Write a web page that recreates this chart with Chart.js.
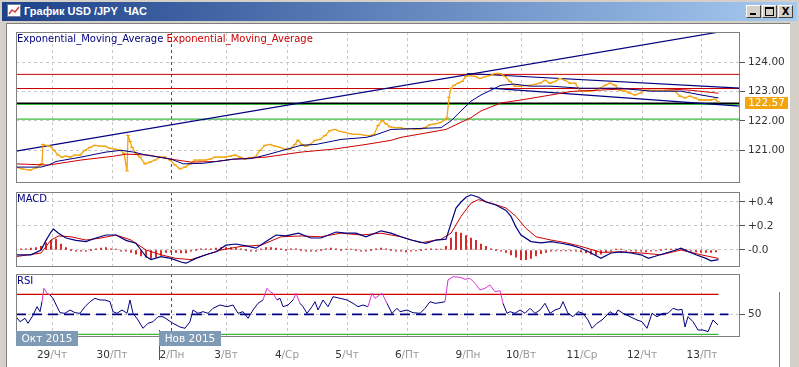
<!DOCTYPE html>
<html>
<head>
<meta charset="utf-8">
<title>USD/JPY</title>
<script src="https://cdn.jsdelivr.net/npm/chart.js@4.4.1/dist/chart.umd.min.js"></script>
<style>
  html, body { margin: 0; padding: 0; }
  body { width: 799px; height: 367px; overflow: hidden; position: relative; background: #d4d0c8; font-family: "DejaVu Sans", Verdana, sans-serif; }
  #titlebar { position: absolute; left: 2px; top: 2px; width: 795px; height: 19px; background: linear-gradient(to right, #1d4189, #a6caf0); }
  #titlebar .caption { position: absolute; left: 22px; top: 2px; color: #fff; font: bold 11px "Liberation Sans", Arial, sans-serif; line-height: 15px; white-space: pre; }
  #icon { position: absolute; left: 5px; top: 2px; }
  .btn { position: absolute; top: 3px; width: 13px; height: 11px; background: #d4d0c8; border: 1px solid; border-color: #fff #404040 #404040 #fff; }
  #client { position: absolute; left: 6px; top: 23px; width: 783px; height: 344px; background: #fff; border-left: 1px solid #808080; border-top: 1px solid #808080; }
  #edge { position: absolute; left: 779px; top: 292px; width: 1px; height: 75px; background: #808080; }
  canvas { position: absolute; left: 0; }
</style>
</head>
<body>
<div id="titlebar">
  <svg id="icon" width="15" height="14"><rect x="0.5" y="0.5" width="13" height="12" fill="#fff" stroke="#6d7f9c"/><polyline points="2,10 5,6 8,8 12,3" fill="none" stroke="#d23c3c" stroke-width="1.5"/></svg>
  <span class="caption">График USD /JPY  ЧАС</span>
  <div class="btn" style="left:744px"><div style="position:absolute;left:3px;top:7px;width:6px;height:2px;background:#000"></div></div>
  <div class="btn" style="left:760px"><div style="position:absolute;left:2px;top:1px;width:7px;height:6px;border:1px solid #000;border-top-width:2px"></div></div>
  <div class="btn" style="left:776px;font:bold 10px 'DejaVu Sans';line-height:11px;text-align:center">X</div>
</div>
<div id="client"></div>
<div id="edge"></div>
<canvas id="mainChart" width="799" height="164" style="top:24px"></canvas>
<canvas id="macdChart" width="799" height="82" style="top:188px"></canvas>
<canvas id="rsiChart" width="799" height="97" style="top:270px"></canvas>

<script>
// x axis is the bar index, one hourly bar per unit
const xMax = 289.6;
const dayStarts = [14.4, 38.4, 62.4, 84, 108.4, 132.4, 156.4, 180.8, 202, 226.4, 250.4, 274.4];
const dayNums = ['29', '30', '2', '3', '4', '5', '6', '9', '10', '11', '12', '13'];
const dayNames = ['Чт', 'Пт', 'Пн', 'Вт', 'Ср', 'Чт', 'Пт', 'Пн', 'Вт', 'Ср', 'Чт', 'Пт'];
const newMonthDay = 62.4;
const monthLabels = ['Окт 2015', 'Нов 2015'];
const monthMarks = [0, 57.2];

// price panel
const priceTicks = [121, 122, 123, 124];
const price = [
  [0,120.43],[2.4,120.37],[5.6,120.33],[8,120.4],[9.6,120.5],[10.4,120.55],[10.8,121.2],[12,121.17],[13.6,121.14],[15.2,121.0],
  [16.8,120.84],[18.4,120.77],[20,120.8],[21.6,120.77],[23.6,120.84],[25.6,120.84],[27.6,121.0],[29.6,121.1],[31.6,121.17],[33.6,121.14],
  [35.6,121.14],[37.6,121.07],[39.6,121.04],[41.6,121.0],[43.2,120.9],[44.4,120.3],[44.8,121.5],[45.6,121.3],[46.4,121.1],[48,120.9],
  [49.6,120.77],[51.6,120.54],[53.6,120.6],[55.6,120.67],[57.6,120.77],[59.6,120.77],[61.6,120.67],[63.6,120.5],[65.6,120.37],[67.6,120.43],
  [69.6,120.54],[71.6,120.67],[73.6,120.67],[75.6,120.67],[77.6,120.7],[79.6,120.77],[81.6,120.77],[83.6,120.77],[85.6,120.8],[87.6,120.84],
  [89.6,120.77],[91.6,120.7],[93.6,120.74],[95.6,120.77],[97.6,121.0],[99.6,121.17],[101.6,121.2],[103.6,121.14],[105.6,121.1],[107.6,121.04],
  [109.6,121.04],[111.6,121.2],[112.8,121.34],[114.4,121.2],[116,121.14],[117.6,121.2],[119.6,121.34],[121.6,121.37],[123.6,121.5],[125.6,121.67],
  [127.6,121.71],[129.6,121.64],[131.6,121.61],[133.6,121.57],[135.6,121.54],[137.6,121.54],[139.6,121.51],[141.6,121.5],[143.2,121.54],[144.8,121.84],
  [146.4,122.01],[148,121.9],[149.6,121.8],[151.6,121.77],[153.6,121.77],[155.6,121.74],[157.6,121.74],[159.6,121.72],[161.6,121.72],[163.6,121.77],
  [165.6,121.87],[167.6,121.9],[169.6,121.94],[171.6,122.04],[172.4,122.1],[173.2,122.8],[174,123.11],[175.2,123.21],[176.8,123.28],[178.4,123.34],
  [180,123.51],[181.6,123.54],[183.6,123.51],[185.6,123.44],[187.6,123.5],[189.6,123.54],[191.6,123.61],[193.6,123.61],[195.6,123.51],[197.6,123.34],
  [199.6,123.18],[201.6,123.18],[203.6,123.2],[205.6,123.21],[207.6,123.24],[209.6,123.28],[211.6,123.38],[213.6,123.28],[215.6,123.34],[217.6,123.44],
  [219.6,123.38],[221.6,123.28],[223.6,123.28],[225.6,123.04],[227.6,123.01],[229.6,123.01],[231.6,123.04],[233.6,123.11],[235.6,123.21],[237.6,123.28],
  [239.6,123.21],[241.6,123.04],[243.6,123.01],[245.6,122.94],[247.6,122.88],[249.6,122.94],[251.6,123.04],[253.6,123.04],[255.6,123.04],[257.6,123.04],
  [259.6,123.04],[261.6,123.04],[263.6,123.01],[265.6,122.84],[267.6,122.78],[269.6,122.84],[271.6,122.78],[273.6,122.71],[275.6,122.71],[277.6,122.71],
  [279.6,122.74],[280.8,122.65]
];
const emaFast = [
  [0,120.43],[10,120.43],[13,120.5],[16,120.62],[26,120.77],[36,120.94],[42,121.0],[47,120.94],[52,120.84],[62,120.7],
  [67,120.54],[75,120.56],[87,120.7],[94,120.72],[100,120.84],[114,121.17],[120,121.2],[130,121.37],[140,121.44],[143,121.5],
  [150,121.71],[154,121.72],[170,121.77],[174,122.0],[178,122.34],[182,122.67],[186,122.88],[194,123.21],[199,123.25],[206,123.18],
  [214,123.18],[226,123.11],[242,123.11],[254,123.01],[266,123.01],[274,122.88],[281,122.78]
];
const emaSlow = [
  [0,120.54],[13,120.5],[26,120.67],[39,120.8],[44,120.87],[53,120.84],[62,120.7],[70,120.6],[80,120.62],[87,120.7],
  [100,120.77],[114,120.94],[127,121.04],[140,121.2],[150,121.34],[154,121.44],[172,121.71],[182,122.11],[186,122.34],[194,122.61],
  [202,122.71],[214,122.88],[222,123.0],[242,123.08],[258,123.1],[270,123.04],[281,122.94]
];
const trendLong = [[0,120.97],[289.6,125.14]];
const channelUpper = [[180.4,123.61],[289.6,123.11]];
const channelLower = [[189.6,123.11],[289.6,122.5]];
const redLevels = [123.58, 123.10];
const greenLevels = [122.56, 122.06];
const bidLine = 122.60;
const lastQuote = '122.57';

// MACD panel
const macdTicks = [0, 0.2, 0.4];
const macd = [
  [0,-0.04],[6,-0.04],[10,0],[12,0.08],[14,0.15],[15,0.175],[17,0.14],[20,0.1],[24,0.08],[28,0.07],
  [32,0.1],[36,0.125],[40,0.125],[44,0.08],[48,0.056],[50,0],[52,-0.055],[54,-0.08],[58,-0.055],[62,-0.07],
  [66,-0.1],[68,-0.11],[72,-0.07],[76,-0.04],[80,-0.015],[84,0.04],[88,0.05],[92,0.035],[96,0.015],[100,0.07],
  [104,0.125],[108,0.117],[113,0.14],[118,0.1],[122,0.1],[128,0.15],[132,0.14],[136,0.14],[140,0.11],[146,0.16],
  [150,0.14],[154,0.11],[158,0.083],[164,0.056],[168,0.083],[172,0.09],[174,0.22],[176,0.35],[178,0.4],[180,0.44],
  [182,0.46],[185,0.44],[188,0.4],[192,0.375],[196,0.33],[198,0.28],[200,0.19],[202,0.125],[206,0.07],[210,0.06],
  [214,0.07],[218,0.056],[222,0.04],[226,0.015],[230,-0.025],[234,-0.07],[238,-0.025],[242,-0.015],[246,-0.025],[250,-0.04],
  [253,-0.07],[256,-0.05],[260,-0.025],[264,0],[266,0.015],[268,-0.005],[272,-0.04],[276,-0.07],[278,-0.09],[281,-0.08]
];
const signal = [
  [0,-0.055],[10,-0.025],[14,0.083],[17,0.117],[22,0.11],[28,0.083],[34,0.1],[40,0.125],[46,0.083],[52,0],
  [58,-0.04],[64,-0.07],[70,-0.08],[76,-0.04],[82,0],[90,0.03],[98,0.04],[106,0.11],[114,0.117],[122,0.11],
  [130,0.14],[138,0.125],[146,0.14],[154,0.11],[162,0.06],[170,0.09],[174,0.14],[178,0.28],[182,0.39],[185,0.42],
  [190,0.39],[196,0.35],[200,0.28],[204,0.18],[208,0.11],[214,0.083],[220,0.06],[226,0.03],[234,-0.02],[242,-0.015],
  [250,-0.025],[258,-0.04],[266,0],[274,-0.04],[281,-0.07]
];
// histogram, one value every 2 bars starting at bar 0
const histStep = 2;
const hist = [
  0.01,0.01,0.01,0.015,0.02,0.03,0.06,0.08,0.09,0.05,0.02,0,
  -0.01,-0.01,-0.01,0,0.01,0.015,0.02,0.01,0.005,-0.01,-0.01,-0.02,
  -0.035,-0.05,-0.06,-0.07,-0.06,-0.045,-0.02,-0.015,-0.02,-0.025,-0.025,-0.01,
  0,0.01,0.01,0.01,0.015,0.02,0.02,0.02,0.015,0.01,0,-0.01,
  -0.01,0.01,0.02,0.02,0.015,0.01,0,0.01,0.01,0,-0.01,-0.01,
  -0.01,0,0.01,0.015,0.01,0,0.005,0.005,0,-0.01,-0.01,0,
  0.01,0.015,0.01,0,-0.01,-0.01,-0.015,-0.01,-0.005,0,0.005,0.01,
  0.005,0.005,0.03,0.1,0.15,0.14,0.12,0.1,0.08,0.05,0.03,0.01,
  0,-0.01,-0.02,-0.04,-0.06,-0.08,-0.08,-0.07,-0.05,-0.03,-0.02,-0.01,
  -0.005,-0.005,-0.005,-0.005,-0.01,-0.015,-0.025,-0.035,-0.04,-0.035,-0.02,-0.01,
  0.005,0.005,-0.005,-0.005,-0.01,-0.01,-0.015,-0.01,-0.005,0,0.005,0.005,
  0.01,0.01,0,-0.01,-0.015,-0.02,-0.02,-0.02,-0.015
];

// RSI panel
const rsiTicks = [50];
const rsiHigh = 70, rsiMid = 50, rsiLow = 30;
const rsiEnd = 281, rsiMidEnd = 285;
const rsi = [
  [0,47.6],[1.6,42.6],[3.6,46],[4.8,41],[6.8,49],[8.4,57.6],[9.6,52.6],[10.4,62.6],[11.2,76],[12.4,71],
  [13.6,69.3],[14.8,66],[16.4,57.6],[17.6,51.6],[19.6,51],[21.6,54.3],[23.6,51.6],[25.6,51],[27.6,57.6],[29.6,62.6],
  [31.6,66],[33.6,64.3],[35.6,64.3],[37.6,62.6],[38.8,52.6],[40.4,51],[42.4,54.3],[44.4,51],[45.6,64.3],[46.8,51],
  [48.8,44.3],[50.8,36],[52.8,41],[54.8,42.6],[56.8,47.6],[58.8,47.6],[60.8,44.3],[62.8,41],[65.6,37.3],[67.6,36],
  [69.6,42.6],[70.8,54.3],[72.8,51],[74.8,52.6],[76.8,51],[78.8,56],[81.6,59.3],[84.4,57.6],[86.8,59.3],[88.8,51],
  [90.8,52.6],[92.8,46],[94.8,54.3],[96.8,61],[98.8,64.3],[100.4,76],[101.6,72.6],[102.8,71],[104.4,64.3],[105.6,66],
  [106.8,57.6],[108.8,59.3],[110.8,64.3],[112,71],[113.6,61],[114.8,57.6],[116.4,51],[118.4,57.6],[119.6,62.6],[120.8,54.3],
  [122.8,64.3],[124.8,57.6],[126.8,67.6],[129.6,66],[132.4,64.3],[134.8,61],[136.8,57.6],[138.8,59.3],[140.8,57.6],[142.4,71],
  [143.6,66],[146.4,71],[148.4,61],[150.4,51],[152.4,56],[153.6,52.6],[156.4,54.3],[158.8,51.6],[161.6,51],[163.6,56],
  [165.6,62.6],[167.6,61],[169.6,61.6],[171.6,62.6],[172.8,84.3],[174.8,87.6],[177.6,87],[179.6,85],[181.6,86],[183.6,81],
  [185.6,74.3],[187.6,76],[189.6,79.3],[191.6,72.6],[193.6,73.6],[194.8,61],[196.4,51],[197.6,52.6],[199.6,51],[201.6,54.3],
  [203.6,51],[205.6,56],[207.6,51],[209.6,54.3],[211.6,61],[213.6,51],[215.6,54.3],[217.6,56],[218.8,62.6],[220.8,51],
  [222.8,47.6],[224.8,52.6],[226.8,51],[228.8,44.3],[230.4,36],[232.4,41],[234.4,44.3],[236.4,49.3],[237.6,52.6],[239.6,49.3],
  [240.8,54.3],[242.8,51],[245.6,47.6],[248.4,44.3],[250.4,42.6],[252.4,36],[254.4,51],[256.4,47.6],[258.8,51],[260.8,51],
  [262.8,56],[264.8,54.3],[266.4,55],[267.6,37.3],[268.8,47.6],[270.8,42.6],[272.8,34.3],[274.8,34.3],[276.8,32.6],[278.8,44.3],
  [280.8,39.3]
];

const NAVY = '#000080', RED = '#cc0000', GREEN = '#3cb83c', ORANGE = '#f2a50f', MAGENTA = '#d633d6';
const FONT = '"DejaVu Sans", Verdana, sans-serif';

const pts = arr => arr.map(([x, y]) => ({x, y}));
const level = (v, end) => [{x: 0, y: v}, {x: end === undefined ? xMax : end, y: v}];

function lineSet(data, color, width, order, extra) {
  return Object.assign({type: 'line', data, borderColor: color, borderWidth: width, pointRadius: 0, tension: 0, order}, extra || {});
}

const framePlugin = {
  id: 'frame',
  afterDatasetsDraw(chart) {
    const {ctx, chartArea: a} = chart;
    ctx.save();
    ctx.strokeStyle = '#808080';
    ctx.lineWidth = 1;
    ctx.strokeRect(a.left + 0.5, a.top + 0.5, a.width - 1, a.height - 1);
    ctx.restore();
  }
};

function panelOptions(yMin, yMax, ticks, fmt, padTop, padBottom) {
  return {
    responsive: false,
    animation: false,
    events: [],
    layout: {padding: {left: 16, right: 0, top: padTop, bottom: padBottom}},
    plugins: {legend: {display: false}, tooltip: {enabled: false}},
    scales: {
      x: {
        type: 'linear', min: 0, max: xMax, offset: false,
        ticks: {display: false},
        grid: {offset: false, drawTicks: false, lineWidth: 1,
          color: c => (c.tick && c.tick.value === newMonthDay) ? '#505050' : '#c8c8c8'},
        border: {display: false, dash: [3, 3]},
        afterBuildTicks: s => { s.ticks = dayStarts.map(v => ({value: v})); },
        afterFit: s => { s.height = 0; s.paddingLeft = 0; s.paddingRight = 0; }
      },
      y: {
        type: 'linear', position: 'right', min: yMin, max: yMax, beginAtZero: false,
        ticks: {callback: fmt, color: '#333', padding: 3, autoSkip: false, font: {family: FONT, size: 10.5}},
        grid: {color: '#c8c8c8', tickColor: '#555', tickLength: 5, tickBorderDash: [1, 0]},
        border: {display: false, dash: [3, 3]},
        afterBuildTicks: s => { s.ticks = ticks.map(v => ({value: v})); },
        afterFit: s => { s.width = 59; s.paddingTop = 0; s.paddingBottom = 0; }
      }
    }
  };
}

// ---------- main price chart ----------
const mainExtras = {
  id: 'mainExtras',
  afterDraw(chart) {
    const {ctx, chartArea: a} = chart;
    ctx.save();
    ctx.font = '10px ' + FONT;
    ctx.textBaseline = 'middle';
    const label = 'Exponential_Moving_Average';
    ctx.fillStyle = NAVY;
    ctx.fillText(label, a.left + 1, a.top + 7);
    const w = ctx.measureText(label + ' ').width;
    ctx.fillStyle = RED;
    ctx.fillText(label, a.left + 1 + w, a.top + 7);

    const y = chart.scales.y.getPixelForValue(bidLine);
    ctx.fillStyle = ORANGE;
    ctx.fillRect(a.right + 5, Math.round(y) - 6, 43, 12);
    ctx.fillStyle = '#fff';
    ctx.font = '10.5px ' + FONT;
    ctx.textAlign = 'center';
    ctx.fillText(lastQuote, a.right + 26.5, Math.round(y));
    ctx.restore();
  }
};

new Chart(document.getElementById('mainChart'), {
  type: 'line',
  data: {
    datasets: [
      lineSet(pts(emaFast), NAVY, 1, 1),
      lineSet(pts(emaSlow), RED, 1, 2),
      lineSet(pts(price), ORANGE, 1.3, 3, {pointStyle: 'line', pointRadius: 2, pointBorderWidth: 1, pointBorderColor: ORANGE}),
      lineSet(pts(trendLong), NAVY, 1.2, 4),
      lineSet(pts(channelUpper), NAVY, 1.2, 4),
      lineSet(pts(channelLower), NAVY, 1.2, 4),
      lineSet(level(bidLine), '#000', 1.5, 5),
      ...redLevels.map(v => lineSet(level(v), RED, 1, 6)),
      ...greenLevels.map(v => lineSet(level(v), GREEN, 1.2, 6))
    ]
  },
  options: panelOptions(119.89, 125.02, priceTicks, v => v.toFixed(2), 8, 2),
  plugins: [framePlugin, mainExtras]
});

// ---------- MACD ----------
const macdExtras = {
  id: 'macdExtras',
  afterDraw(chart) {
    const {ctx, chartArea: a} = chart;
    ctx.save();
    ctx.font = '10px ' + FONT;
    ctx.textBaseline = 'middle';
    ctx.fillStyle = NAVY;
    ctx.fillText('MACD', a.left + 1, a.top + 7);
    ctx.restore();
  }
};

new Chart(document.getElementById('macdChart'), {
  type: 'line',
  data: {
    datasets: [
      lineSet(pts(macd), NAVY, 1.2, 1),
      lineSet(pts(signal), RED, 1, 2),
      {type: 'bar', data: hist.map((v, i) => ({x: i * histStep, y: v})), backgroundColor: RED,
       barThickness: 1, minBarLength: 1, order: 3}
    ]
  },
  options: panelOptions(-0.1417, 0.4833, macdTicks, v => v === 0 ? '-0.0' : '+' + v.toFixed(1), 4, 3),
  plugins: [framePlugin, macdExtras]
});

// ---------- RSI ----------
const rsiExtras = {
  id: 'rsiExtras',
  afterDraw(chart) {
    const {ctx, chartArea: a} = chart;
    const x = chart.scales.x;
    ctx.save();
    ctx.font = '10px ' + FONT;
    ctx.textBaseline = 'middle';
    ctx.fillStyle = NAVY;
    ctx.fillText('RSI', a.left + 1, a.top + 7);

    // day labels
    ctx.font = '10.5px ' + FONT;
    dayStarts.forEach((t, i) => {
      const px = x.getPixelForValue(t);
      const n = dayNums[i], d = '/' + dayNames[i];
      const wn = ctx.measureText(n).width, wd = ctx.measureText(d).width;
      const left = px - (wn + wd) / 2;
      ctx.fillStyle = '#333';
      ctx.fillText(n, left, 85);
      ctx.fillStyle = '#999';
      ctx.fillText(d, left + wn, 85);
    });

    // month markers
    monthMarks.forEach((t, i) => {
      const px = Math.round(x.getPixelForValue(t));
      if (i > 0) {
        ctx.fillStyle = '#555';
        ctx.fillRect(px, 60, 1, 30);
      }
      ctx.fillStyle = '#7e9ab4';
      ctx.fillRect(px, 61, 62, 15);
      ctx.fillStyle = '#fff';
      ctx.textAlign = 'center';
      ctx.fillText(monthLabels[i], px + 31, 69);
      ctx.textAlign = 'left';
    });
    ctx.restore();
  }
};

new Chart(document.getElementById('rsiChart'), {
  type: 'line',
  data: {
    datasets: [
      lineSet(pts(rsi), NAVY, 1, 1, {
        segment: {borderColor: c => (c.p0.parsed.y > rsiHigh || c.p1.parsed.y > rsiHigh) ? MAGENTA : NAVY}
      }),
      lineSet(level(rsiHigh, rsiEnd), RED, 1.2, 2),
      lineSet(level(rsiLow, rsiEnd), GREEN, 1.2, 2),
      lineSet(level(rsiMid, rsiMidEnd), NAVY, 1.8, 3, {borderDash: [10, 6]})
    ]
  },
  options: panelOptions(27.3, 90.3, rsiTicks, v => String(v), 4, 30),
  plugins: [framePlugin, rsiExtras]
});
</script>
</body>
</html>
